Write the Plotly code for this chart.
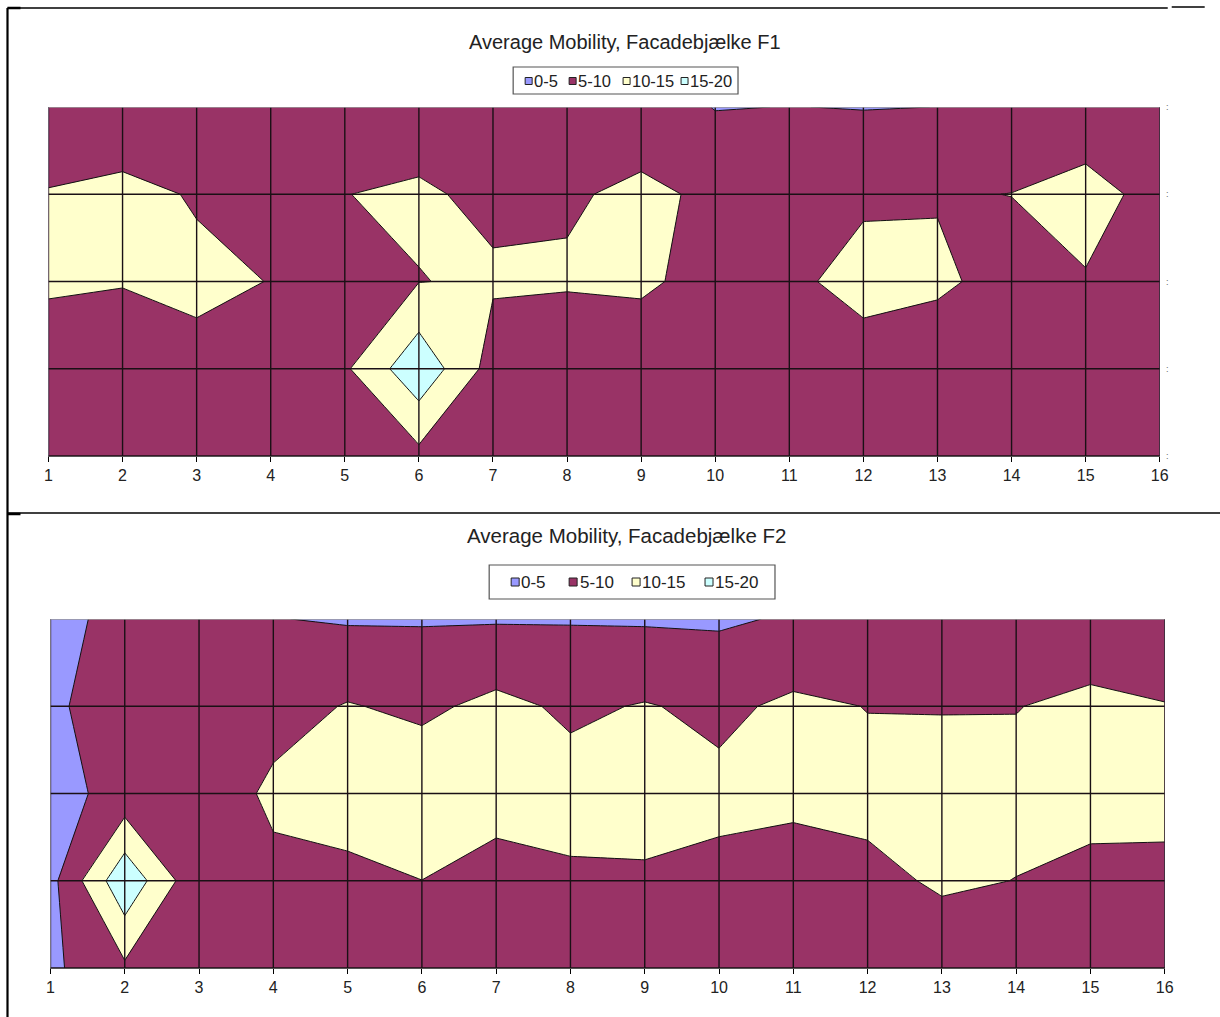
import plotly.graph_objects as go

# ---------------- data ----------------
cols = list(range(1, 17))
rows = [1, 2, 3, 4, 5]
x_tick_labels = [str(c) for c in cols]
legend_labels = ["0-5", "5-10", "10-15", "15-20"]
band_colors = ["#9999FF", "#993366", "#FFFFCC", "#CCFFFF"]
level_start, level_end, level_size = 5, 15, 5

f1_title = "Average Mobility, Facadebjælke F1"
f1_row1 = [7.5, 8.0, 8.0, 8.0, 8.0, 8.0, 8.0, 8.0, 8.0, 4.8, 5.07, 4.83, 5.02, 7.0, 8.5, 8.0]
f1_row2 = [10.2, 10.7, 9.8, 9.9, 9.95, 10.5, 9.2, 9.6, 10.7, 9.4, 8.5, 9.5, 9.7, 10.05, 10.8, 9.26]
f1_row3 = [10.5, 10.2, 10.5, 9.95, 9.0, 9.9, 10.5, 10.4, 10.5, 8.94, 9.33, 11.1, 10.8, 8.4, 9.85, 9.0]
f1_row4 = [8.0, 7.5, 9.3, 8.0, 9.3, 18.7, 8.0, 7.0, 8.0, 8.0, 8.0, 8.48, 7.0, 7.5, 7.5, 7.5]
f1_row5 = [7.5, 7.5, 7.5, 7.5, 7.5, 8.7, 7.5, 7.5, 7.5, 7.5, 7.5, 7.5, 7.5, 7.5, 7.5, 7.5]

f2_title = "Average Mobility, Facadebjælke F2"
f2_row1 = [2.92, 7.0, 7.5, 5.13, 4.57, 4.61, 4.6, 4.68, 4.49, 4.35, 5.49, 6.0, 5.05, 6.0, 7.5, 7.5]
f2_row2 = [4.2, 7.4, 7.5, 8.14, 10.29, 9.0, 11.27, 9.2, 10.29, 9.0, 10.92, 9.9, 9.9, 9.9, 10.83, 10.13]
f2_row3 = [3.23, 6.7, 6.65, 11.0, 12.0, 13.5, 12.5, 11.8, 12.0, 11.08, 11.0, 11.15, 10.9, 11.0, 11.5, 11.0]
f2_row4 = [3.46, 18.9, 6.0, 8.73, 8.97, 9.97, 7.6, 9.3, 9.37, 8.9, 8.0, 9.0, 10.5, 9.95, 8.9, 9.2]
f2_row5 = [4.03, 9.15, 7.5, 7.5, 7.5, 7.5, 7.5, 7.5, 7.5, 7.5, 7.5, 7.5, 7.7, 7.5, 7.5, 7.5]

f1_z = [f1_row1, f1_row2, f1_row3, f1_row4, f1_row5]
f2_z = [f2_row1, f2_row2, f2_row3, f2_row4, f2_row5]

# ---------------- layout helpers ----------------
W, H = 1220, 1017
FONT = "Liberation Sans, Arial, sans-serif"
# horizontal correction for the page rendering (observed x scale / offset)
XS, XO = 0.99, 3.5


def fx(p):
    return ((p - XO) / XS) / W


def fy(p):
    return 1 - p / H


colorscale = [
    [0.0, band_colors[0]], [1 / 6, band_colors[0]],
    [1 / 6, band_colors[1]], [0.5, band_colors[1]],
    [0.5, band_colors[2]], [5 / 6, band_colors[2]],
    [5 / 6, band_colors[3]], [1.0, band_colors[3]],
]

fig = go.Figure()


def add_contour(z, xa, ya):
    fig.add_trace(go.Contour(
        x=cols, y=rows, z=z, xaxis=xa, yaxis=ya,
        colorscale=colorscale, showscale=False, autocontour=False,
        contours=dict(start=level_start, end=level_end, size=level_size, coloring="fill"),
        line=dict(color="#111111", width=1, smoothing=0),
        hoverinfo="skip",
    ))


add_contour(f1_z, "x", "y")
add_contour(f2_z, "x2", "y2")

# plot area pixel boxes: (left, right, top, bottom)
box1 = (48, 1160, 107, 456)
box2 = (50, 1165, 619, 968)

axis_common = dict(
    range=[cols[0], cols[-1]], tickvals=cols, ticktext=x_tick_labels,
    ticks="outside", ticklen=5, tickcolor="#000000", tickwidth=1,
    showgrid=False, zeroline=False, showline=True, linecolor="#555555",
    linewidth=1, tickfont=dict(family=FONT, size=16, color="#222222"),
)

fig.update_layout(
    width=W, height=H,
    margin=dict(l=0, r=0, t=0, b=0, pad=0),
    paper_bgcolor="white", plot_bgcolor="white",
    showlegend=False,
    xaxis=dict(domain=[fx(box1[0]), fx(box1[1])], anchor="y", **axis_common),
    yaxis=dict(domain=[fy(box1[3]), fy(box1[2])], anchor="x", range=[rows[-1], rows[0]],
               showgrid=False, zeroline=False, showticklabels=False, showline=False),
    xaxis2=dict(domain=[fx(box2[0]), fx(box2[1])], anchor="y2", **axis_common),
    yaxis2=dict(domain=[fy(box2[3]), fy(box2[2])], anchor="x2", range=[rows[-1], rows[0]],
                showgrid=False, zeroline=False, showticklabels=False, showline=False),
)

shapes = []
annotations = []

# grid lines drawn over the filled surface
for xa, ya in (("x", "y"), ("x2", "y2")):
    for c in cols:
        shapes.append(dict(type="line", xref=xa, yref=ya, x0=c, x1=c, y0=rows[0], y1=rows[-1],
                           line=dict(color="#1a1015", width=1.4), layer="above"))
    for r in rows:
        col = "#9a9a9a" if r == rows[0] else "#1a1015"
        shapes.append(dict(type="line", xref=xa, yref=ya, x0=cols[0], x1=cols[-1], y0=r, y1=r,
                           line=dict(color=col, width=1.4), layer="above"))

# clipped series labels at the right of the first chart
for r in rows:
    annotations.append(dict(text=":", x=fx(1168), y=r, xref="paper", yref="y", showarrow=False,
                            xanchor="center", yanchor="middle",
                            font=dict(family=FONT, size=9, color="#666666")))

# titles
annotations.append(dict(text=f1_title, x=fx(625), y=fy(42), xref="paper", yref="paper",
                        showarrow=False, xanchor="center", yanchor="middle",
                        font=dict(family=FONT, size=20, color="#222222")))
annotations.append(dict(text=f2_title, x=fx(626), y=fy(535), xref="paper", yref="paper",
                        showarrow=False, xanchor="center", yanchor="middle",
                        font=dict(family=FONT, size=20.5, color="#222222")))


def add_legend(box, sq_x, txt_x, yc, fsize, sq):
    l, t, r, b = box
    shapes.append(dict(type="rect", xref="paper", yref="paper", x0=fx(l), x1=fx(r), y0=fy(b), y1=fy(t),
                       line=dict(color="#555555", width=1.2), fillcolor="white", layer="above"))
    for i, lab in enumerate(legend_labels):
        shapes.append(dict(type="rect", xref="paper", yref="paper",
                           x0=fx(sq_x[i]), x1=fx(sq_x[i] + sq), y0=fy(yc + sq / 2), y1=fy(yc - sq / 2),
                           line=dict(color="#222222", width=1), fillcolor=band_colors[i], layer="above"))
        annotations.append(dict(text=lab, x=fx(txt_x[i]), y=fy(yc), xref="paper", yref="paper",
                                showarrow=False, xanchor="left", yanchor="middle",
                                font=dict(family=FONT, size=fsize, color="#222222")))


add_legend((513, 67, 738, 94), [525, 569, 623, 681], [532, 576, 630, 688], 81, 16.5, 7)
add_legend((489, 565, 775, 599), [511, 569, 632, 705], [519, 578, 640, 713], 582, 17, 8)

# page frame lines
frame = [
    (7, 8, 7, 1017, 2.2),
    (7, 8, 1168, 8, 1.5),
    (1172, 7, 1205, 7, 1.5),
    (7, 513, 1225, 513, 1.5),
    (7, 8, 20, 8, 2.5),
    (7, 514, 20, 514, 2.5),
]
for x0, y0, x1, y1, w in frame:
    shapes.append(dict(type="line", xref="paper", yref="paper", x0=fx(x0), x1=fx(x1),
                       y0=fy(y0), y1=fy(y1), line=dict(color="#000000", width=w), layer="above"))

fig.update_layout(shapes=shapes, annotations=annotations)

post = (
    "var de=document.documentElement,bd=document.body;"
    "[de,bd].forEach(function(e){e.style.margin='0';e.style.padding='0';"
    "e.style.overflow='hidden';e.style.width='1220px';e.style.height='1017px';});"
    "var g=document.getElementsByClassName('plotly-graph-div')[0];"
    "g.style.position='absolute';g.style.left='0px';g.style.top='0px';"
)
fig.write_html("out.html", config={"displayModeBar": False, "responsive": False}, post_script=post)
